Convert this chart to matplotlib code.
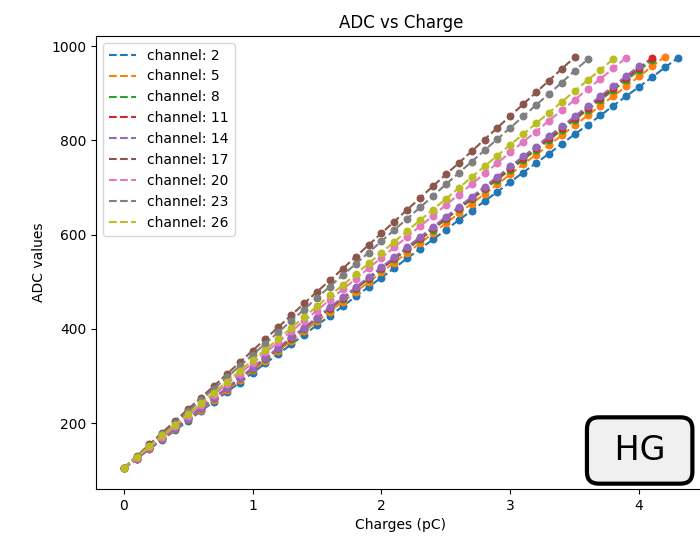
import matplotlib
matplotlib.use("Agg")
import matplotlib.pyplot as plt

charges = [0.0, 0.1, 0.2, 0.3, 0.4, 0.5, 0.6, 0.7, 0.8, 0.9,
           1.0, 1.1, 1.2, 1.3, 1.4, 1.5, 1.6, 1.7, 1.8, 1.9,
           2.0, 2.1, 2.2, 2.3, 2.4, 2.5, 2.6, 2.7, 2.8, 2.9,
           3.0, 3.1, 3.2, 3.3, 3.4, 3.5, 3.6, 3.7, 3.8, 3.9,
           4.0, 4.1, 4.2, 4.3]

channels = [2, 5, 8, 11, 14, 17, 20, 23, 26]

adc_ch2 = [104, 124, 145, 165, 185, 205, 226, 246, 266, 286, 307, 327, 347, 367, 388,
           408, 428, 448, 469, 489, 509, 529, 550, 570, 590, 610, 631, 651, 671, 691,
           712, 732, 752, 772, 793, 813, 833, 853, 874, 894, 914, 934, 955, 975]
adc_ch5 = [104, 125, 146, 166, 187, 208, 229, 250, 270, 291, 312, 333, 354, 374, 395,
           416, 437, 458, 478, 499, 520, 541, 562, 582, 603, 624, 645, 666, 686, 707,
           728, 749, 770, 790, 811, 832, 853, 874, 894, 915, 936, 957, 978]
adc_ch8 = [105, 126, 147, 168, 189, 211, 232, 253, 274, 295, 316, 337, 358, 379, 400,
           422, 443, 464, 485, 506, 527, 548, 569, 590, 611, 633, 654, 675, 696, 717,
           738, 759, 780, 801, 822, 844, 865, 886, 907, 928, 949, 970]
adc_ch11 = [104, 125, 147, 168, 189, 210, 232, 253, 274, 295, 317, 338, 359, 380, 402,
            423, 444, 465, 487, 508, 529, 550, 572, 593, 614, 635, 657, 678, 699, 720,
            742, 763, 784, 805, 827, 848, 869, 890, 912, 933, 954, 975]
adc_ch14 = [104, 125, 147, 168, 189, 211, 232, 253, 275, 296, 318, 339, 360, 382, 403,
            424, 446, 467, 488, 510, 531, 552, 574, 595, 616, 638, 659, 680, 702, 723,
            745, 766, 787, 809, 830, 851, 873, 894, 915, 937, 958]
adc_ch17 = [105, 130, 155, 180, 205, 230, 254, 279, 304, 329, 354, 379, 404, 429, 454,
            479, 503, 528, 553, 578, 603, 628, 653, 678, 703, 728, 752, 777, 802, 827,
            852, 877, 902, 927, 952, 977]
adc_ch20 = [104, 126, 149, 171, 193, 216, 238, 260, 283, 305, 328, 350, 372, 395, 417,
            439, 462, 484, 506, 529, 551, 573, 596, 618, 640, 663, 685, 707, 730, 752,
            775, 797, 819, 842, 864, 886, 909, 931, 953, 976]
adc_ch23 = [104, 128, 152, 176, 200, 225, 249, 273, 297, 321, 345, 369, 393, 417, 441,
            466, 490, 514, 538, 562, 586, 610, 634, 658, 682, 707, 731, 755, 779, 803,
            827, 851, 875, 899, 923, 948, 972]
adc_ch26 = [105, 128, 151, 174, 196, 219, 242, 265, 288, 311, 334, 356, 379, 402, 425,
            448, 471, 493, 516, 539, 562, 585, 608, 631, 653, 676, 699, 722, 745, 768,
            791, 813, 836, 859, 882, 905, 928, 950, 973]

adc_values = [adc_ch2, adc_ch5, adc_ch8, adc_ch11, adc_ch14,
              adc_ch17, adc_ch20, adc_ch23, adc_ch26]

fig = plt.figure(figsize=(7.0, 5.48), dpi=100)
ax = fig.add_axes([96 / 700, 59 / 548, 609.5 / 700, 453 / 548])

for i, (ch, vals) in enumerate(zip(channels, adc_values)):
    color = f"C{i}"
    xs = charges[:len(vals)]
    ax.plot(xs, vals, "--", color=color, label=f"channel: {ch}")
    ax.scatter(xs, vals, s=22, color=color, zorder=2)

ax.set_title("ADC vs Charge")
ax.set_xlabel("Charges (pC)")
ax.set_ylabel("ADC values")
ax.set_xticks([0, 1, 2, 3, 4])
ax.set_yticks([200, 400, 600, 800, 1000])
ax.legend(loc="upper left")

ax.text(0.892, 0.085, " HG ", transform=ax.transAxes, fontsize=24,
        ha="center", va="center",
        bbox=dict(boxstyle="round,pad=0.5,rounding_size=0.35", facecolor="#f0f0f0",
                  edgecolor="black", linewidth=3))

fig.savefig("out.png", dpi=100)
